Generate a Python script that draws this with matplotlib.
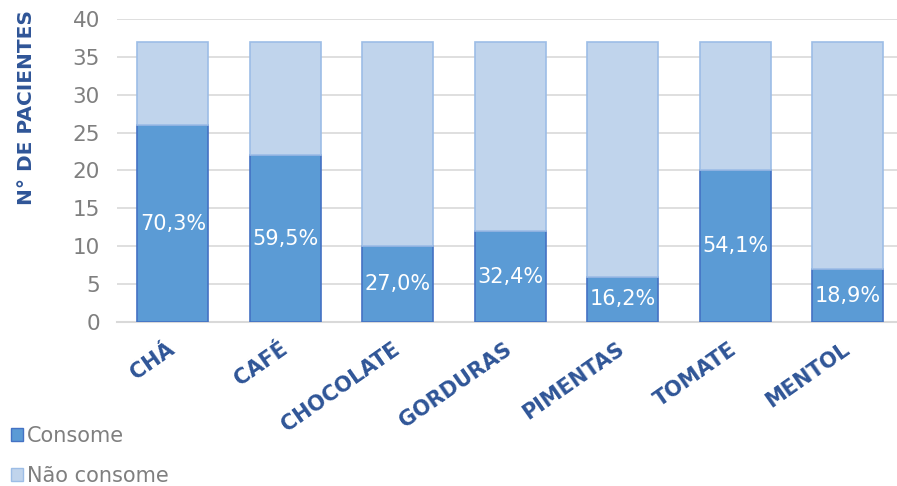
import matplotlib

matplotlib.use("Agg")
import matplotlib.pyplot as plt
from matplotlib.patches import Patch
from matplotlib.transforms import ScaledTranslation

categories = ["CHÁ", "CAFÉ", "CHOCOLATE", "GORDURAS", "PIMENTAS", "TOMATE", "MENTOL"]
consome = [26, 22, 10, 12, 6, 20, 7]
nao_consome = [11, 15, 27, 25, 31, 17, 30]
pct_labels = ["70,3%", "59,5%", "27,0%", "32,4%", "16,2%", "54,1%", "18,9%"]

DARK = "#5B9BD5"
DARK_EDGE = "#4472C4"
LIGHT = "#C0D4EC"
LIGHT_EDGE = "#9DBDE6"
LABEL_BLUE = "#2F5597"
GREY = "#7F7F7F"

plt.rcParams["font.family"] = ["DejaVu Sans"]

fig = plt.figure(figsize=(8.97, 4.86), dpi=100)
ax = fig.add_axes([0.130, 0.3374, 0.878, 0.6236])

x = range(len(categories))
width = 0.63
ax.bar(x, consome, width, color=DARK, edgecolor=DARK_EDGE, linewidth=1.2, zorder=3)
ax.bar(x, nao_consome, width, bottom=consome, color=LIGHT, edgecolor=LIGHT_EDGE,
       linewidth=1.2, zorder=3)

for i, (v, lab) in enumerate(zip(consome, pct_labels)):
    ax.text(i, v / 2, lab, ha="center", va="center", color="white", fontsize=15, zorder=4)

ax.set_xlim(-0.5, 6.5)
ax.set_ylim(0, 40)
ax.set_yticks(range(0, 41, 5))
ax.grid(axis="y", color="#D9D9D9", linewidth=1.2, zorder=0)
for s in ["top", "right", "left"]:
    ax.spines[s].set_visible(False)
ax.spines["bottom"].set_color("#D9D9D9")
ax.spines["bottom"].set_linewidth(1.5)
ax.tick_params(axis="y", length=0, labelsize=15.5, labelcolor=GREY, pad=12)
ax.tick_params(axis="x", length=0, pad=12)

ax.set_xticks(list(x))
ax.set_xticklabels(categories, rotation=35, ha="right", rotation_mode="anchor",
                   fontsize=15, fontweight="bold", color=LABEL_BLUE)
shift = ScaledTranslation(-6 / 100, 0, fig.dpi_scale_trans)
for t in ax.get_xticklabels():
    t.set_transform(t.get_transform() + shift)

fig.text(0.030, 0.778, "N° DE PACIENTES", rotation=90, ha="center", va="center",
         fontsize=14.5, fontweight="bold", color=LABEL_BLUE)

handles = [Patch(facecolor=DARK, edgecolor=DARK_EDGE, label="Consome"),
           Patch(facecolor=LIGHT, edgecolor=LIGHT_EDGE, label="Não consome")]
fig.legend(handles=handles, loc="lower left", bbox_to_anchor=(-0.002, -0.025), frameon=False,
           fontsize=15, labelcolor=GREY, handlelength=0.6, handleheight=0.6,
           handletextpad=0.2, labelspacing=0.95, borderaxespad=0.2)

fig.savefig("out.png", dpi=100)
